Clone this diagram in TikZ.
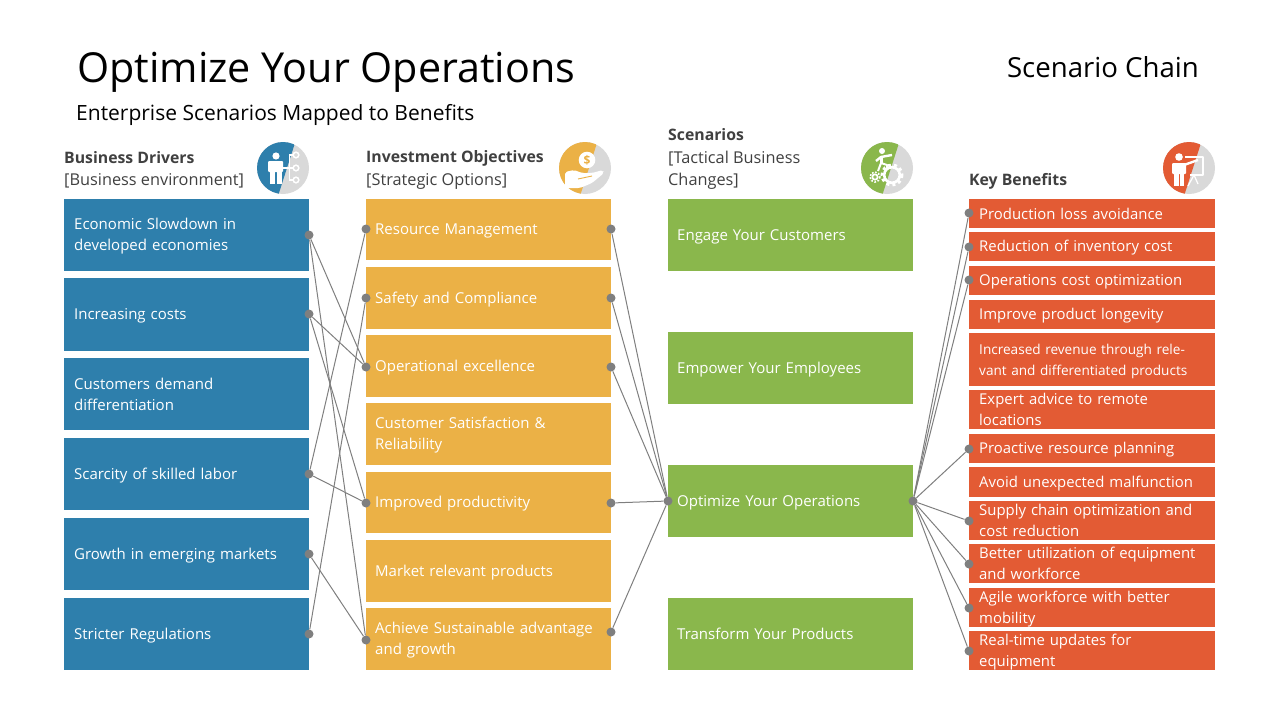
\documentclass[tikz,border=0pt]{standalone}
\usepackage{fontspec}
\setmainfont{Open Sans}
\usepackage{xcolor}
\definecolor{drvblue}{HTML}{2E7FAC}
\definecolor{objyellow}{HTML}{EBB146}
\definecolor{scngreen}{HTML}{8AB74C}
\definecolor{benorange}{HTML}{E35B34}
\definecolor{headgray}{HTML}{404040}
\definecolor{dotgray}{HTML}{7F7F7F}
\definecolor{icongray}{HTML}{D9D9D9}
\newcommand{\headbold}[1]{{\fontsize{15.8}{22.5}\selectfont\textbf{#1}}}
\tikzset{
    box/.style={anchor=north west, inner xsep=10, inner ysep=0, text width=225, minimum width=245,
        align=left, text=white, font=\fontsize{15}{21}\selectfont,
        execute at begin node={\rule{0pt}{14pt}}, execute at end node={\rule[-3pt]{0pt}{3pt}}},
    drvbox/.style={box, fill=drvblue},
    objbox/.style={box, fill=objyellow, inner xsep=9, text width=227},
    scnbox/.style={box, fill=scngreen, inner xsep=9, text width=227},
    benbox/.style={box, fill=benorange, text width=226, minimum width=246, font=\fontsize{14.9}{21}\selectfont},
    headtext/.style={anchor=west, inner sep=0, align=left, text=headgray, font=\fontsize{16.3}{22.5}\selectfont},
    dotmark/.style={circle, fill=dotgray, inner sep=0, minimum size=9},
    link/.style={dotgray, line width=1},
    iconbase/.pic={
        \fill[icongray] (0,0) circle (26);
        \begin{scope}
            \clip (0,0) circle (26);
            \fill[#1] (-30,-30) -- (13.6,-30) -- (-5.6,30) -- (-30,30) -- cycle;
        \end{scope}
    }
}
\begin{document}
\begin{tikzpicture}[x=1pt,y=-1pt]
    \useasboundingbox (0,0) rectangle (1280,720);

    % titles
    \node[anchor=west, inner sep=0, font=\fontsize{41.3}{46}\selectfont] (title) at (77,72) {Optimize Your Operations};
    \node[anchor=west, inner sep=0, font=\fontsize{21}{25}\selectfont] (subtitle) at (76,115) {Enterprise Scenarios Mapped to Benefits};
    \node[anchor=east, inner sep=0, font=\fontsize{27.6}{32}\selectfont] (chain) at (1199,67) {Scenario Chain};

    % column heads
    \node[headtext] (drvhead) at (64,170) {\headbold{Business Drivers}\\{[Business environment]}};
    \node[headtext] (objhead) at (366,170) {\headbold{Investment Objectives}\\{[Strategic Options]}};
    \node[headtext] (scnhead) at (668,159) {\headbold{Scenarios}\\{[Tactical Business}\\{Changes]}};
    \node[headtext] (benhead) at (969,181.5) {\headbold{Key Benefits}};

    % business drivers
    \node[drvbox, minimum height=72] (drv1) at (64,199) {Economic Slowdown in\\developed economies};
    \node[drvbox, minimum height=73] (drv2) at (64,278) {Increasing costs};
    \node[drvbox, minimum height=72] (drv3) at (64,358) {Customers demand\\differentiation};
    \node[drvbox, minimum height=72] (drv4) at (64,438) {Scarcity of skilled labor};
    \node[drvbox, minimum height=72] (drv5) at (64,518) {Growth in emerging markets};
    \node[drvbox, minimum height=72] (drv6) at (64,598) {Stricter Regulations};

    % investment objectives
    \node[objbox, minimum height=61] (obj1) at (366,199) {Resource Management};
    \node[objbox, minimum height=62] (obj2) at (366,267) {Safety and Compliance};
    \node[objbox, minimum height=62] (obj3) at (366,335) {Operational excellence};
    \node[objbox, minimum height=62] (obj4) at (366,403) {Customer Satisfaction \&\\Reliability};
    \node[objbox, minimum height=61] (obj5) at (366,472) {Improved productivity};
    \node[objbox, minimum height=62] (obj6) at (366,540) {Market relevant products};
    \node[objbox, minimum height=62] (obj7) at (366,608) {Achieve Sustainable advantage\\and growth};

    % scenarios
    \node[scnbox, minimum height=72] (scn1) at (668,199) {Engage Your Customers};
    \node[scnbox, minimum height=72] (scn2) at (668,332) {Empower Your Employees};
    \node[scnbox, minimum height=72] (scn3) at (668,465) {Optimize Your Operations};
    \node[scnbox, minimum height=72] (scn4) at (668,598) {Transform Your Products};

    % key benefits
    \node[benbox, minimum height=29] (ben1) at (969,199) {Production loss avoidance};
    \node[benbox, minimum height=29] (ben2) at (969,232) {Reduction of inventory cost};
    \node[benbox, minimum height=29] (ben3) at (969,266) {Operations cost optimization};
    \node[benbox, minimum height=29] (ben4) at (969,300) {Improve product longevity};
    \node[benbox, minimum height=53, font=\fontsize{13.6}{21}\selectfont] (ben5) at (969,333) {Increased revenue through rele-\\vant and differentiated products};
    \node[benbox, minimum height=39] (ben6) at (969,390) {Expert advice to remote\\locations};
    \node[benbox, minimum height=29] (ben7) at (969,434) {Proactive resource planning};
    \node[benbox, minimum height=30] (ben8) at (969,467) {Avoid unexpected malfunction};
    \node[benbox, minimum height=39] (ben9) at (969,501) {Supply chain optimization and\\cost reduction};
    \node[benbox, minimum height=39] (ben10) at (969,544) {Better utilization of equipment\\and workforce};
    \node[benbox, minimum height=39] (ben11) at (969,588) {Agile workforce with better\\mobility};
    \node[benbox, minimum height=39] (ben12) at (969,631) {Real-time updates for\\equipment};

    % connector dots
    \node[dotmark] (drvout1) at (309,235) {};
    \node[dotmark] (drvout2) at (309,314) {};
    \node[dotmark] (drvout4) at (309,474) {};
    \node[dotmark] (drvout5) at (309,554) {};
    \node[dotmark] (drvout6) at (309,634) {};
    \node[dotmark] (objin1) at (366,229) {};
    \node[dotmark] (objin2) at (366,298) {};
    \node[dotmark] (objin3) at (366,367) {};
    \node[dotmark] (objin5) at (366,503) {};
    \node[dotmark] (objin7) at (366,640) {};
    \node[dotmark] (objout1) at (611,229) {};
    \node[dotmark] (objout2) at (611,298) {};
    \node[dotmark] (objout3) at (611,367) {};
    \node[dotmark] (objout5) at (611,503) {};
    \node[dotmark] (objout7) at (611,632) {};
    \node[dotmark] (scnin3) at (668,501) {};
    \node[dotmark] (scnout3) at (913,501) {};
    \node[dotmark] (benin1) at (969,213) {};
    \node[dotmark] (benin2) at (969,247) {};
    \node[dotmark] (benin3) at (969,280) {};
    \node[dotmark] (benin7) at (969,449) {};
    \node[dotmark] (benin9) at (969,521) {};
    \node[dotmark] (benin10) at (969,564) {};
    \node[dotmark] (benin11) at (969,608) {};
    \node[dotmark] (benin12) at (969,651) {};

    % connectors
    \draw[link] (drvout1) -- (objin3);
    \draw[link] (drvout1) -- (objin7);
    \draw[link] (drvout2) -- (objin3);
    \draw[link] (drvout2) -- (objin5);
    \draw[link] (drvout4) -- (objin1);
    \draw[link] (drvout4) -- (objin5);
    \draw[link] (drvout5) -- (objin7);
    \draw[link] (drvout6) -- (objin2);
    \draw[link] (objout1) -- (scnin3);
    \draw[link] (objout2) -- (scnin3);
    \draw[link] (objout3) -- (scnin3);
    \draw[link] (objout5) -- (scnin3);
    \draw[link] (objout7) -- (scnin3);
    \draw[link] (scnout3) -- (benin1);
    \draw[link] (scnout3) -- (benin2);
    \draw[link] (scnout3) -- (benin3);
    \draw[link] (scnout3) -- (benin7);
    \draw[link] (scnout3) -- (benin9);
    \draw[link] (scnout3) -- (benin10);
    \draw[link] (scnout3) -- (benin11);
    \draw[link] (scnout3) -- (benin12);

    % icon: person with branches
    \pic at (283,168) {iconbase=drvblue};
    \fill[white] (276,156) circle (3.6);
    \fill[white, rounded corners=1] (268,161) rectangle (283,172);
    \fill[white] (270,170) rectangle (275.4,184);
    \fill[white] (276.6,170) rectangle (282,184);
    \draw[white, line width=1.3] (283,168) -- (293,168);
    \draw[white, line width=1.3] (293,155) -- (289.5,155) -- (289.5,180) -- (293,180);
    \foreach \y in {155,168,180} \draw[white, line width=1.5] (296,\y) circle (2.8);

    % icon: hand with coin
    \pic at (585,168) {iconbase=objyellow};
    \fill[white] (587,160) circle (8.3);
    \node[inner sep=0, text=objyellow, font=\fontsize{12}{12}\bfseries\selectfont] (coin) at (587,160) {\$};
    \fill[white, rounded corners=2] (565,172) -- (574,170) -- (582,173) -- (592,173) -- (603,170) -- (604,173) -- (592,183) -- (580,188) -- (565,188) -- cycle;
    \draw[objyellow, line width=0.9] (578,179) -- (592,176);

    % icon: climbing figure with gears
    \pic at (887,168) {iconbase=scngreen};
    \fill[white] (882,151) circle (3);
    \draw[white, line width=2.4, line join=round] (892,155) -- (881,157) -- (876,161);
    \draw[white, line width=3, line join=round] (881,156) -- (881,163);
    \draw[white, line width=2, line join=round] (881,163) -- (878,171) (881,163) -- (887,165) -- (887,170);
    \draw[white, line width=2.6] (892,175) circle (7.8);
    \draw[white, line width=3, dash pattern=on 3 off 3.1] (892,175) circle (10);
    \fill[white] (875,177) circle (3.6);
    \draw[scngreen, line width=0.8] (875,177) circle (1.3);
    \draw[white, line width=1.6, dash pattern=on 1.7 off 1.6] (875,177) circle (5);

    % icon: presenter with board
    \pic at (1189,168) {iconbase=benorange};
    \fill[white] (1179,157) circle (3.8);
    \fill[white, rounded corners=1] (1172,163) rectangle (1186,174);
    \draw[white, line width=2.4] (1184,165) -- (1198,160);
    \fill[white] (1174,172) rectangle (1178.5,186);
    \fill[white] (1179.5,172) rectangle (1184,186);
    \draw[white, line width=1.2, line join=round] (1185,157) -- (1203,157) -- (1203,175) -- (1190,175);
    \draw[white, line width=1.2] (1194,175) -- (1188,186) (1194,175) -- (1198,184);
\end{tikzpicture}
\end{document}
